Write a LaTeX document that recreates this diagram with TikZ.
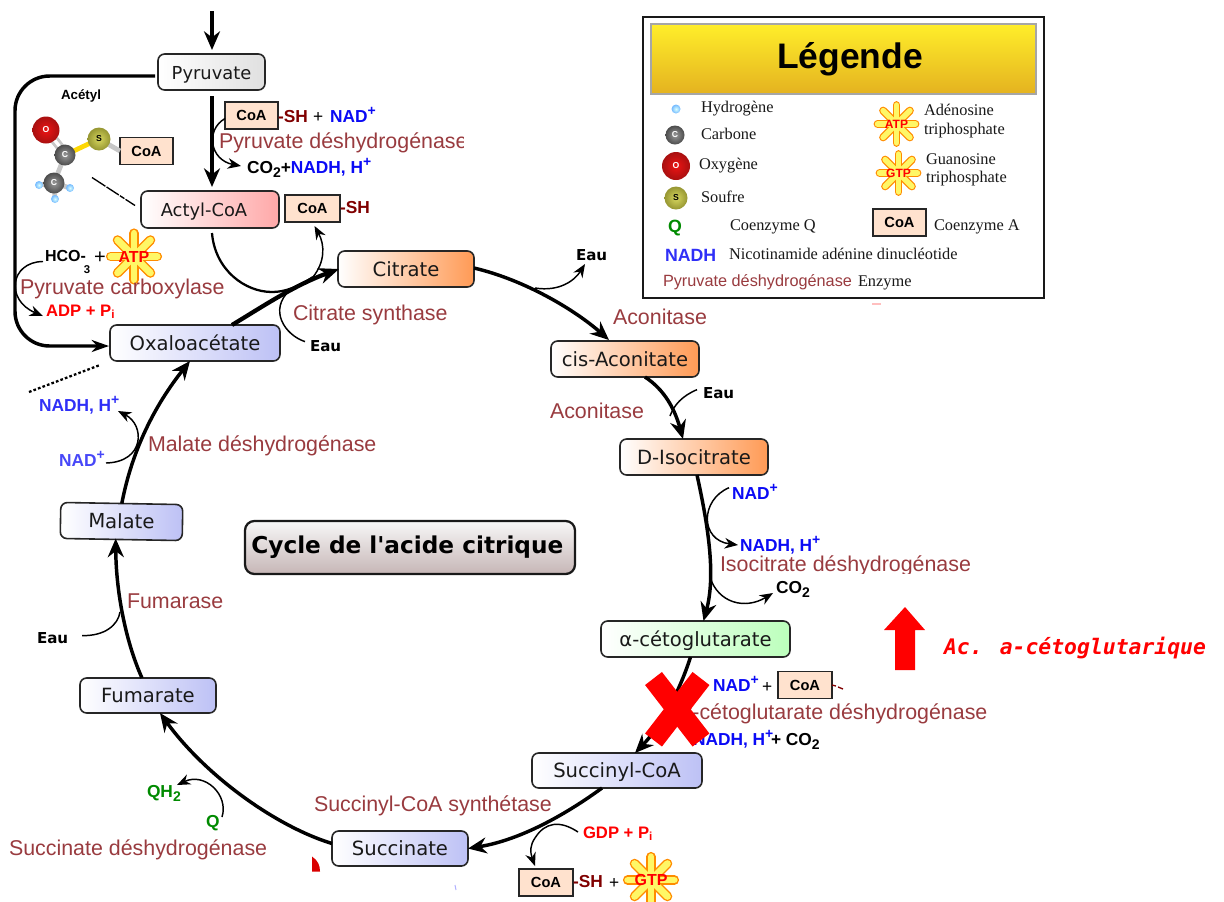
\documentclass[tikz,border=0pt]{standalone}
\usepackage{fontspec}
\setmainfont{Liberation Sans}
\newfontfamily\djv{DejaVu Sans}
\newfontfamily\djm{DejaVu Sans Mono}
\newfontfamily\lser{Liberation Serif}
\usetikzlibrary{arrows.meta,calc,shapes.geometric}
\definecolor{enz}{HTML}{993B3F}
\definecolor{shred}{HTML}{800000}
\definecolor{nadb}{HTML}{0A0AF5}
\definecolor{qgreen}{HTML}{008A00}
\definecolor{coafill}{HTML}{FFE2CE}
\definecolor{gorange}{HTML}{FF9A55}
\definecolor{gred}{HTML}{FFA8A8}
\definecolor{ggreen}{HTML}{BCFFBC}
\definecolor{gblue}{HTML}{BDC1F5}
\definecolor{ggrey}{HTML}{E0E0E0}
\definecolor{sin}{HTML}{D7D75F}
\definecolor{sout}{HTML}{969632}
\definecolor{oin}{HTML}{EC1414}
\definecolor{oout}{HTML}{A81010}
\newcommand{\mysup}[1]{{\fontsize{10.5}{12}\selectfont\raisebox{4.8pt}{#1}}}
\newcommand{\mysub}[1]{{\fontsize{10.5}{12}\selectfont\raisebox{-3.5pt}{#1}}}
\tikzset{
  x=0.75pt,y=-0.75pt,
  size/.style 2 args={minimum width=#1*0.75pt,minimum height=#2*0.75pt,inner sep=0pt,outer sep=0pt},
  metab/.style={draw=black!85,line width=1.2pt,rounded corners=5pt,left color=white,right color=#1,text height=11.5pt,text depth=1pt,font=\djv\fontsize{14.7}{16}\selectfont,text=black!90},
  smallmetab/.style={font=\djv\fontsize{13.4}{15}\selectfont},
  coabox/.style={draw=black!85,line width=1.2pt,fill=coafill,size={#1}{27},font=\bfseries\fontsize{11}{13}\selectfont},
  coabox/.default=54,
  lab/.style={anchor=base west,inner sep=0pt,outer sep=0pt},
  enzyme/.style={lab,text=enz,font=\fontsize{16.05}{18}\selectfont},
  bold/.style={lab,font=\bfseries\fontsize{13}{15}\selectfont},
  eau/.style={lab,font=\djv\bfseries\fontsize{11.3}{13}\selectfont},
  leg/.style={lab,font=\lser\fontsize{12.25}{14}\selectfont,text=black!90},
  cyc/.style={line width=2.6pt,-{Stealth[length=14pt,width=12pt]}},
  thin arrow/.style={line width=1.1pt,-{Stealth[length=10pt,width=8pt]}},
  thin line/.style={line width=1.1pt},
  atom/.style n args={3}{circle,size={#1}{#1},inner color=#2,outer color=#3,font=\bfseries\fontsize{6.5}{7}\selectfont,text=white},
  hatom/.style={atom={#1}{cyan!15!white}{cyan!50!blue!55!white}},
  catom/.style={atom={#1}{black!40}{black!70}},
  oatom/.style={atom={#1}{oin}{oout}},
  satom/.style={atom={#1}{sin}{sout},text=black},
  bond/.style={line width=3.6pt,color=#1},
  bond/.default={black!22!white},
  bursttext/.initial=ATP,
  pics/burst/.style 2 args={code={
    \foreach \a in {0,45,90,135}{
      \draw[color=orange!90!yellow,line width=#1*0.135pt,line cap=round] (\a:#1*0.43) -- (\a+180:#1*0.43);}
    \foreach \a in {0,45,90,135}{
      \draw[color=yellow!60!white,line width=#1*0.095pt,line cap=round] (\a:#1*0.43) -- (\a+180:#1*0.43);}
    \pgfmathsetmacro\burstfs{9+(#1-44)*0.3}
    \node[name=#2,text=red,inner sep=0pt,font=\bfseries\fontsize{\burstfs}{12}\selectfont] at (0,0) {\pgfkeysvalueof{/tikz/bursttext}};
  }}
}
\begin{document}
\begin{tikzpicture}
\useasboundingbox (0,0) rectangle (1224,901);
% metabolite boxes
\node[metab=ggrey,smallmetab,size={107}{36}] (pyr) at (211.5,72) {Pyruvate};
\node[metab=gred,smallmetab,size={138}{37}] (acyl) at (210,209.5) {\hspace*{-9pt}Actyl-CoA};
\node[metab=gorange,size={136}{36}] (citrate) at (406,269) {Citrate};
\node[metab=gorange,size={148}{36}] (cis) at (625,359) {cis-Aconitate};
\node[metab=gorange,size={148}{36}] (iso) at (694,457) {D-Isocitrate};
\node[metab=ggreen,size={189}{36}] (akg) at (695.5,639) {α-cétoglutarate};
\node[metab=gblue,size={170}{35}] (succoa) at (617,770.5) {Succinyl-CoA};
\node[metab=gblue,size={136}{35}] (succ) at (400,848.5) {Succinate};
\node[metab=gblue,size={136}{35}] (fum) at (148,695.5) {Fumarate};
\node[metab=gblue,size={122}{36},rotate=-1] (mal) at (121.5,521.5) {Malate};
\node[metab=gblue,size={170}{36}] (oxa) at (195,343) {Oxaloacétate};
\node[draw=black!90,line width=1.7pt,rounded corners=7pt,top color=black!3,bottom color={rgb,255:red,198;green,182;blue,182},size={330}{53},font=\djv\bfseries\fontsize{17.4}{22}\selectfont] (title) at (410,547.5) {\hspace*{-4pt}Cycle de l'acide citrique};
% free ends
\coordinate (topin) at (212,11);
\coordinate (pyrin) at (212,50);
\coordinate (pyrout) at (212,96);
\coordinate (acylin) at (212,187);
% cofactor boxes
\node[coabox=53] (coa1) at (251.5,115.5) {CoA};
\node[coabox=53] (coaM) at (146.5,151) {CoA};
\node[coabox=55] (coa2) at (312.5,208.5) {CoA};
\node[coabox=54] (coa3) at (805,685) {CoA};
\node[coabox=54] (coa4) at (546,882.5) {CoA};
% main arrows
\draw[cyc] (topin) -- (pyrin);
\draw[cyc] (pyrout) -- (acylin);
\draw[line width=2.6pt,-{Stealth[length=13pt,width=9pt]},rounded corners=26pt] ($(pyr.west)+(-3,4)$) -- ($(pyr.west)+(-143,4)$) -- ($(oxa.west)+(-95,3)$) -- ($(oxa.west)+(-1,3)$);
\draw[cyc] ($(citrate.east)+(0,-1)$) .. controls (525,280) and (575,310) .. ($(cis.north)+(-16,-1)$);
\draw[cyc] ($(cis.south)+(20,0)$) .. controls (665,390) and (675,410) .. ($(iso.north)+(-11,0)$);
\draw[cyc] ($(iso.south)+(3,0)$) .. controls (708,525) and (716,575) .. ($(akg.north)+(8,0)$);
\draw[cyc] ($(akg.south)+(-5,0)$) .. controls (680,690) and (662,725) .. ($(succoa.north)+(18,0)$);
\draw[cyc] ($(succoa.south)+(-15,0)$) .. controls (565,815) and (520,840) .. (succ.east);
\draw[cyc] ($(succ.west)+(0,-5)$) .. controls (275,826) and (205,775) .. ($(fum.south)+(12,0)$);
\draw[cyc] ($(fum.north)+(-6,0)$) .. controls (125,640) and (116,590) .. ($(mal.south)+(-5.5,-1)$);
\draw[cyc] (mal.north) .. controls (132,450) and (155,405) .. ($(oxa.south)+(-5,0)$);
\draw[line width=3.2pt,-{Stealth[length=15pt,width=12pt]}] ($(oxa.north)+(37,0)$) .. controls (265,305) and (295,285) .. ($(citrate.west)+(1,0)$);
% burst + reaction labels
\pic at (134,256.5) {burst={54}{atpA}};
\node[enzyme] (pc) at (20,294) {Pyruvate carboxylase};
\node[bold,font=\bfseries\fontsize{12}{15}\selectfont] (hco) at (45,261) {HCO\rlap{-}\raisebox{-9pt}{\fontsize{8.5}{10}\selectfont\hspace*{2.5pt}3}};
\node[lab,font=\fontsize{15}{16}\selectfont] (plusA) at (94,263) {+};
\node[bold,text=red,font=\bfseries\fontsize{12.5}{15}\selectfont] (adp) at (46,316) {ADP + P\textsubscript{i}};
\node[bold,text=shred] (sh1) at (278,122) {-SH};
\node[lab,font=\fontsize{13}{15}\selectfont] (plus1) at (313,122) {+};
\node[bold,text=nadb] (nad1) at (330,122) {NAD\mysup{+}};
\begin{scope}
\clip (200,120) rectangle (463,160);
\node[enzyme] (pdh) at (219,148) {Pyruvate déshydrogénase};
\end{scope}
\node[bold] (co21) at (247,173) {CO\mysub{2}+\textcolor{nadb}{NADH, H\mysup{+}}};
\node[bold,text=shred] (sh2) at (340,213) {-SH};
\node[lab,font=\bfseries\fontsize{10}{12}\selectfont] (acet) at (61,99) {Acétyl};
\node[enzyme] (cs) at (293,320) {Citrate synthase};
\node[eau] (eau1) at (310,351) {Eau};
\node[eau] (eau2) at (576,260) {Eau};
\node[enzyme] (aco1) at (613,324) {Aconitase};
\node[enzyme] (aco2) at (550,418) {Aconitase};
\node[eau] (eau3) at (703,398) {Eau};
\node[bold,text=nadb] (nad2) at (732,499) {NAD\mysup{+}};
\node[bold,text=nadb] (nadh2) at (740,551) {NADH, H\mysup{+}};
\begin{scope}
\clip (700,550) rectangle (990,573);
\node[enzyme] (idh) at (720,571) {Isocitrate déshydrogénase};
\end{scope}
\node[bold] (co22) at (776,593) {CO\mysub{2}};
\node[bold,text=nadb] (nad3) at (713,691) {NAD\mysup{+}};
\node[lab,font=\fontsize{13}{15}\selectfont] (plus3) at (762,692) {+};
\node[enzyme] (akgdh) at (680,719) {α-cétoglutarate déshydrogénase};
\node[bold,text=nadb] (nadh3) at (693,745) {NADH, H\mysup{+}};
\node[bold] (co23) at (771,745) {+ CO\mysub{2}};
\node[enzyme] (scs) at (314,811) {Succinyl-CoA synthétase};
\node[bold,text=red,font=\bfseries\fontsize{12.5}{15}\selectfont] (gdp) at (583,838) {GDP + P\textsubscript{i}};
\node[bold,text=shred] (sh4) at (573,887) {-SH};
\node[lab,font=\fontsize{13}{15}\selectfont] (plus4) at (609,888) {+};
\tikzset{bursttext=GTP}
\pic at (651,880) {burst={54}{gtpA}};
\node[enzyme] (sdh) at (9,855) {Succinate déshydrogénase};
\node[bold,text=qgreen] (q) at (206,827) {Q};
\node[bold,text=qgreen] (qh2) at (147,797) {QH\mysub{2}};
\node[enzyme] (fumase) at (127,608) {Fumarase};
\node[eau] (eau4) at (37,643) {Eau};
\node[enzyme] (mdh) at (148,451) {Malate déshydrogénase};
\node[bold,text=nadb!85!white] (nadh5) at (39,411) {NADH, H\mysup{+}};
\node[bold,text=nadb!75!white] (nad5) at (59,466) {NAD\mysup{+}};
% named free ends of the side arrows
\coordinate (t1) at (241,166);
\coordinate (j1) at (313,277);
\coordinate (e1) at (290,290);
\coordinate (s2) at (535,288);
\coordinate (t2) at (585,264);
\coordinate (e3) at (670,416);
\coordinate (t3) at (738,545);
\coordinate (s4) at (710,577);
\coordinate (t4) at (773,593);
\coordinate (s5) at (578,832);
\coordinate (j5) at (535,838);
\coordinate (s6) at (222,817);
\coordinate (t6) at (177,785);
\coordinate (e7) at (120,612);
\coordinate (s8) at (106,463);
\coordinate (t8) at (118,411);
\coordinate (t9) at (43,316);
% thin side arrows
\draw[thin arrow] ($(coa1.west)+(0,3)$) .. controls (205,130) and (210,160) .. (t1);
\draw[line width=1.7pt] ($(acyl.south)+(2,5)$) .. controls (215,270) and (245,292) .. (272,292) .. controls (285,292) and (298,287) .. (j1);
\draw[thin arrow] (j1) .. controls (325,262) and (325,245) .. ($(coa2.south)+(2,4)$);
\draw[thin line] ($(eau1.west)+(-5,-4)$) .. controls (285,335) and (268,310) .. (e1);
\draw[thin arrow] (s2) .. controls (560,292) and (575,280) .. (t2);
\draw[thin line] ($(eau3.west)+(-6,-3)$) .. controls (682,396) and (674,405) .. (e3);
\draw[thin arrow] ($(nad2.west)+(-3,-4)$) .. controls (700,500) and (700,540) .. (t3);
\draw[thin arrow] (s4) .. controls (718,603) and (745,610) .. (t4);
\draw[thin line] (s5) .. controls (560,820) and (545,822) .. (j5);
\draw[thin arrow] (j5) .. controls (530,845) and (530,852) .. ($(coa4.north)+(-11,-3)$);
\draw[thin arrow] (s6) .. controls (229,795) and (205,772) .. (t6);
\draw[thin line] ($(eau4.east)+(14,-2)$) .. controls (105,636) and (118,625) .. (e7);
\draw[thin arrow] (s8) .. controls (145,462) and (145,425) .. (t8);
\draw[thin arrow] ($(hco.west)+(-2,0)$) .. controls (10,262) and (5,300) .. (t9);
\draw[line width=1pt,dash pattern=on 12pt off 1pt on 11pt off 1pt on 4pt off 1pt] ($(acyl.west)+(-49,-32)$) -- ($(acyl.west)+(-6,-4)$);
\draw[line width=1.7pt,dash pattern=on 2pt off 1.6pt] ($(oxa.south west)+(-81,31)$) -- ($(oxa.south west)+(-10,4)$);
% acetyl molecule
\coordinate (catmp) at (54,183);
\coordinate (c1tmp) at (65,155); \coordinate (ss) at (99,139); \coordinate (oo) at (46,130);
\coordinate (h1p) at (39,185); \coordinate (h2p) at (70,188); \coordinate (h3p) at (55,199);
\draw[bond] (catmp) -- (h1p); \draw[bond] (catmp) -- (h2p); \draw[bond] (catmp) -- (h3p);
\node[hatom=8] (h1) at (h1p) {};
\node[hatom=8] (h2) at (h2p) {};
\node[hatom=8] (h3) at (h3p) {};
\draw[bond] (c1tmp) -- (catmp);
\draw[bond,line width=2pt] ($(c1tmp)+(-4,-2)$) -- ($(oo)+(-2,2)$);
\draw[bond,line width=2pt] ($(c1tmp)+(3,-3)$) -- ($(oo)+(3,-2)$);
\draw[bond={yellow!75!orange}] (c1tmp) -- (ss);
\draw[bond] (ss) -- (coaM.west);
\node[oatom=27] (oA) at (oo) {O};
\node[catom=21] (cA) at (c1tmp) {C};
\node[catom=21] (cB) at (catmp) {C};
\node[satom=23] (sA) at (ss) {S};
% legend
\node[draw=black!90,line width=1.5pt,fill=white,size={401}{281}] (legend) at (843.5,157.5) {};
\node[draw=black!35,line width=1pt,top color={rgb,255:red,255;green,238;blue,42},bottom color={rgb,255:red,228;green,178;blue,32},size={385}{70},font=\bfseries\fontsize{26.6}{30}\selectfont] (legtitle) at (843.5,59) {\hspace*{9.75pt}Légende};
\node[hatom=9] (lh) at (676,109) {};
\node[leg] (tlh) at (701,112) {Hydrogène};
\node[catom=19] (lc) at (675,135) {C};
\node[leg] (tlc) at (701,139) {Carbone};
\node[oatom=28] (lo) at (676,166) {O};
\node[leg] (tlo) at (699,169) {Oxygène};
\node[satom=23] (ls) at (676,198) {S};
\node[leg] (tls) at (701,202) {Soufre};
\node[bold,text=qgreen,font=\bfseries\fontsize{13.3}{15}\selectfont] (lq) at (668,232) {Q};
\node[leg] (tlq) at (730,230) {Coenzyme Q};
\node[bold,text=nadb!85!white,font=\bfseries\fontsize{13.3}{15}\selectfont] (ln) at (665,261) {NADH};
\node[leg] (tln) at (729,259) {Nicotinamide adénine dinucléotide};
\node[lab,text=enz,font=\fontsize{12.2}{14}\selectfont] (lp) at (663,286) {Pyruvate déshydrogénase};
\node[leg] (tlp) at (858,286) {Enzyme};
\tikzset{bursttext=ATP}
\pic at (896.5,124) {burst={44}{atpL}};
\node[leg] (tla1) at (924,115) {Adénosine};
\node[leg] (tla2) at (924,134) {triphosphate};
\tikzset{bursttext=GTP}
\pic at (898.5,173) {burst={44}{gtpL}};
\node[leg] (tlg1) at (926,164) {Guanosine};
\node[leg] (tlg2) at (926,182) {triphosphate};
\node[coabox=53] (lcoa) at (899.5,222.5) {CoA};
\node[leg] (tlcoa) at (934,230) {Coenzyme A};
% rising arrow
\coordinate (ua) at (905,670); \coordinate (ub) at (905,607);
\draw[draw=none,fill=red] ($(ua)+(-10,0)$) -- ($(ub)+(-10,23)$) -- ($(ub)+(-21,23)$) -- (ub) -- ($(ub)+(20,23)$) -- ($(ub)+(10,23)$) -- ($(ua)+(10,0)$) -- cycle;
\node[lab,text=red,font=\djm\bfseries\itshape\fontsize{16.05}{18}\selectfont] (ac) at (944,654) {Ac. a-cétoglutarique};
% red cross
\coordinate (x1) at (653.5,678.5); \coordinate (x2) at (701,740);
\coordinate (x3) at (701,678.5); \coordinate (x4) at (653.5,740);
\draw[red,line width=16pt] (x1) -- (x2);
\draw[red,line width=16pt] (x3) -- (x4);
% small leftovers
\draw[shred,line width=1pt] (coa3.east) -- ++(4,1);
\draw[shred,line width=1pt] ($(coa3.east)+(6,2)$) -- ++(5,2);
\fill[red!85!black] ($(succ.west)+(-20,8)$) .. controls ($(succ.west)+(-14,12)$) and ($(succ.west)+(-12,17)$) .. ($(succ.west)+(-12,23)$) -- ($(succ.west)+(-20,23)$) -- cycle;
\coordinate (bit1) at (455,885); \coordinate (bit2) at (872,304);
\draw[blue!30!white,line width=.8pt] (bit1) -- ++(1,5);
\draw[red!25!white,line width=.8pt] (bit2) -- ++(9,0);
\end{tikzpicture}
\end{document}
